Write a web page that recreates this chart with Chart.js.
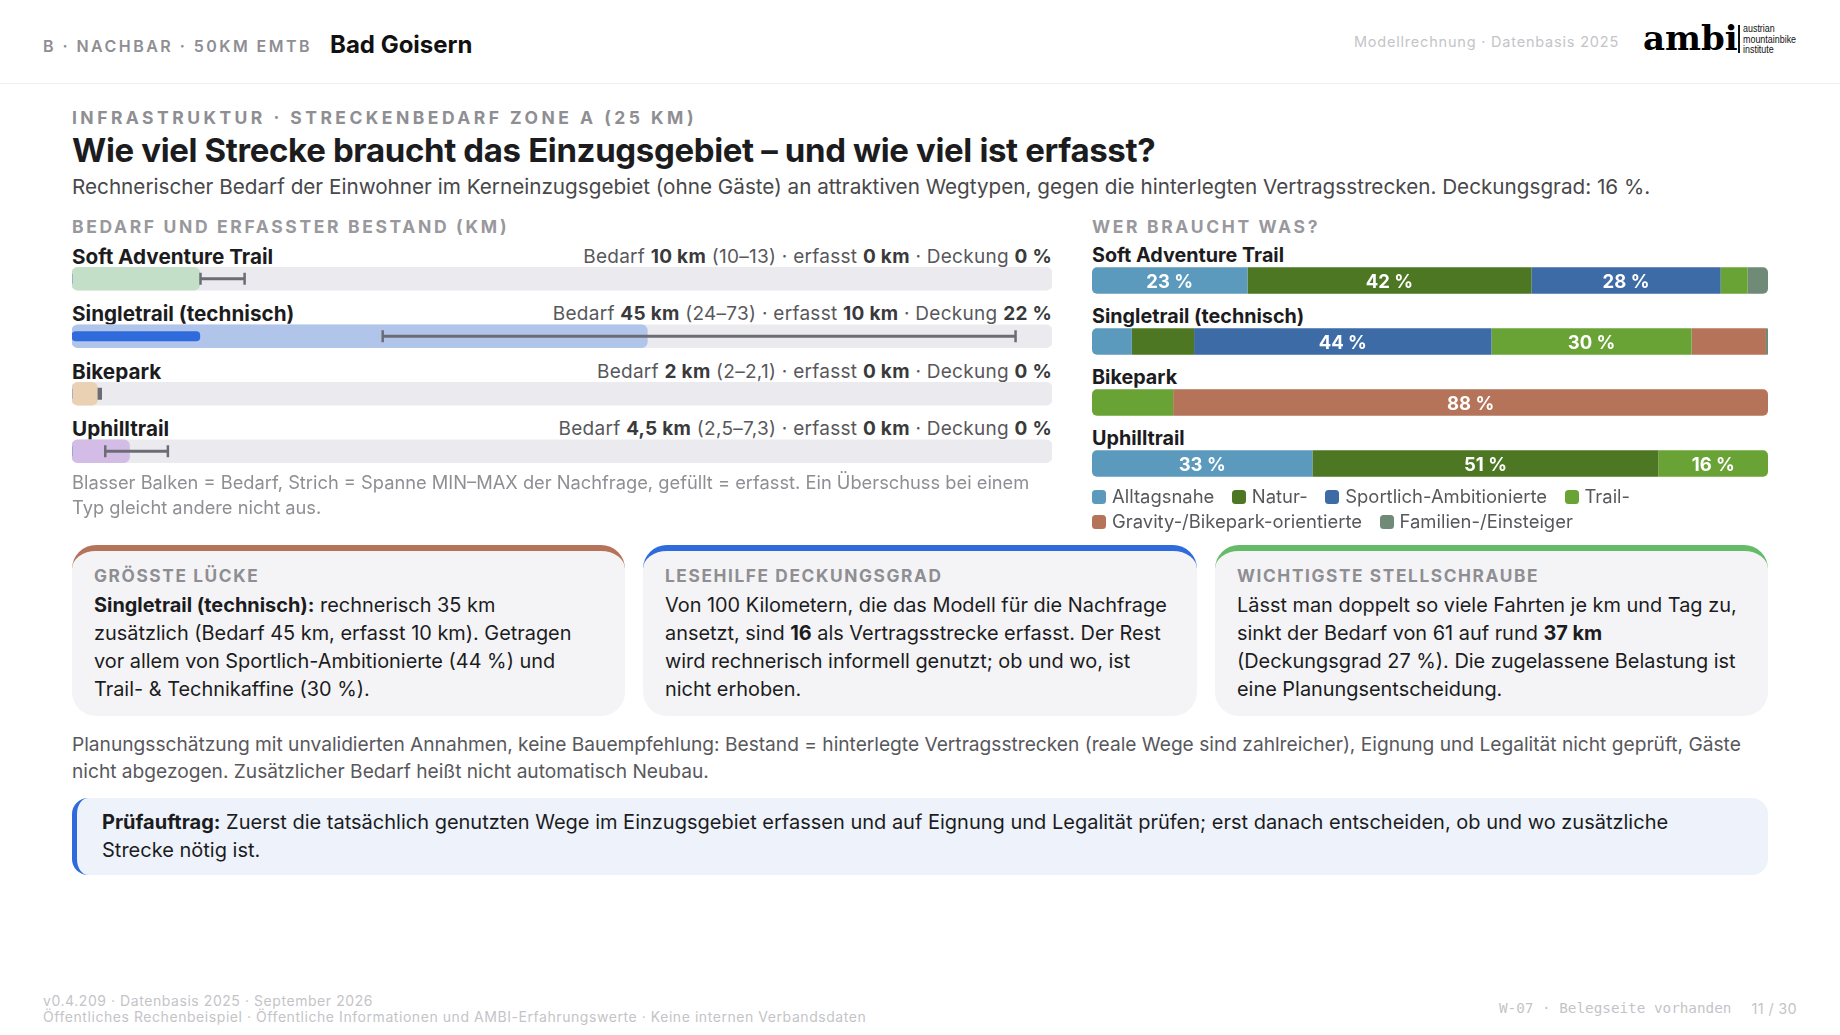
<!DOCTYPE html>
<html lang="de"><head><meta charset="utf-8">
<script src="https://cdn.jsdelivr.net/npm/chart.js@4/dist/chart.umd.min.js"></script>
<style>
html,body{margin:0;padding:0;background:#fff;width:1840px;height:1035px;overflow:hidden;font-family:Inter,sans-serif;color:#1c1c1e}
.a{position:absolute;white-space:nowrap;transform:translateY(-50%)}
.hd{left:0;top:0;width:1840px;height:83px;position:absolute;border-bottom:1.5px solid #efeff1}
.eyebrow{font-weight:700;color:#8e8e93;letter-spacing:3.46px;font-size:17.5px}
.sec{font-weight:700;color:#98989d;letter-spacing:2.64px;font-size:17.5px}
.name{font-weight:700;font-size:20.7px;color:#1c1c1e}
.meta{font-size:19px;letter-spacing:.28px;color:#58585c;right:788px}.meta b{font-weight:700;color:#3a3a3c}
canvas{position:absolute;display:block}
.card{position:absolute;top:545px;height:171px;box-sizing:border-box;background:#f4f4f6;border-top:6px solid;border-radius:24px;padding:14px 22px 0}
.card h4{margin:0 0 4px;font-size:17.3px;line-height:22px;font-weight:700;color:#8e8e93;letter-spacing:1.6px}
.card p{margin:0;font-size:19.9px;line-height:28px;color:#1c1c1e}.card b{font-weight:700}
.legend{position:absolute;left:1092px;top:484px;width:680px;display:flex;flex-wrap:wrap;column-gap:17.5px;font-size:18.45px;line-height:25px;color:#58585c}
.legend span{display:flex;align-items:center}
.legend i{width:14px;height:14px;border-radius:3.5px;margin-right:6px;display:block}
.box{position:absolute;left:72px;top:798px;width:1696px;height:77px;box-sizing:border-box;background:#eef3fb;border-left:5px solid #2f6bdd;border-radius:16px;padding:10px 60px 0 25px;font-size:20px;line-height:28px;color:#1c1c1e}
.box b{font-weight:700}
</style></head><body>
<div class="hd"></div>
<div class="a" style="left:43px;top:46px;font-size:16px;font-weight:600;letter-spacing:2.45px;color:#8e8e93">B · NACHBAR · 50KM EMTB</div>
<div class="a" style="left:330px;top:43.5px;font-size:24px;font-weight:700;color:#111">Bad Goisern</div>
<div class="a" style="right:221px;top:41px;font-size:14.5px;letter-spacing:.055em;color:#c4c4c8">Modellrechnung · Datenbasis 2025</div>
<div class="a" style="left:1643px;top:38px;font-family:'DejaVu Serif';font-weight:700;font-size:34px;color:#000">ambi</div>
<div style="position:absolute;left:1738px;top:25px;width:2px;height:27.5px;background:#111"></div>
<div style="position:absolute;left:1743px;top:23px;font-family:'Liberation Sans';font-size:10.5px;line-height:10.5px;color:#111;transform:scaleX(.85);transform-origin:left top">austrian<br>mountainbike<br>institute</div>

<div class="a eyebrow" style="left:72px;top:116.5px">INFRASTRUKTUR · STRECKENBEDARF ZONE A (25 KM)</div>
<div class="a" style="left:72px;top:150px;font-size:33px;font-weight:700;letter-spacing:-.011em;color:#1c1c1e">Wie viel Strecke braucht das Einzugsgebiet – und wie viel ist erfasst?</div>
<div class="a" style="left:72px;top:186px;font-size:20.7px;color:#48484a">Rechnerischer Bedarf der Einwohner im Kerneinzugsgebiet (ohne Gäste) an attraktiven Wegtypen, gegen die hinterlegten Vertragsstrecken. Deckungsgrad: 16 %.</div>
<div class="a sec" style="left:72px;top:226px">BEDARF UND ERFASSTER BESTAND (KM)</div>
<div class="a sec" style="left:1092px;top:226px">WER BRAUCHT WAS?</div>

<div id="leftLabels"></div>
<canvas id="need" width="980" height="230" style="left:72px;top:249.5px;width:980px;height:230px"></canvas>
<div class="a" style="left:72px;top:494px;font-size:18.3px;line-height:24.5px;color:#8e8e93">Blasser Balken = Bedarf, Strich = Spanne MIN–MAX der Nachfrage, gefüllt = erfasst. Ein Überschuss bei einem<br>Typ gleicht andere nicht aus.</div>

<div id="rightLabels"></div>
<canvas id="mix" width="676" height="244" style="left:1092px;top:249.5px;width:676px;height:244px"></canvas>
<div class="legend" id="legend"></div>

<div class="card" style="left:72px;width:553px;border-color:#b5745a"><h4>GRÖSSTE LÜCKE</h4><p><b>Singletrail (technisch):</b> rechnerisch 35 km<br>zusätzlich (Bedarf 45 km, erfasst 10 km). Getragen<br>vor allem von Sportlich-Ambitionierte (44 %) und<br>Trail- &amp; Technikaffine (30 %).</p></div>
<div class="card" style="left:643px;width:554px;border-color:#2f6bdd"><h4>LESEHILFE DECKUNGSGRAD</h4><p>Von 100 Kilometern, die das Modell für die Nachfrage<br>ansetzt, sind <b>16</b> als Vertragsstrecke erfasst. Der Rest<br>wird rechnerisch informell genutzt; ob und wo, ist<br>nicht erhoben.</p></div>
<div class="card" style="left:1215px;width:553px;border-color:#66bb6a"><h4>WICHTIGSTE STELLSCHRAUBE</h4><p>Lässt man doppelt so viele Fahrten je km und Tag zu,<br>sinkt der Bedarf von 61 auf rund <b>37 km</b><br>(Deckungsgrad 27 %). Die zugelassene Belastung ist<br>eine Planungsentscheidung.</p></div>

<div class="a" style="left:72px;top:757.5px;font-size:19.15px;line-height:27px;color:#58585c">Planungsschätzung mit unvalidierten Annahmen, keine Bauempfehlung: Bestand = hinterlegte Vertragsstrecken (reale Wege sind zahlreicher), Eignung und Legalität nicht geprüft, Gäste<br>nicht abgezogen. Zusätzlicher Bedarf heißt nicht automatisch Neubau.</div>
<div class="box"><b>Prüfauftrag:</b> Zuerst die tatsächlich genutzten Wege im Einzugsgebiet erfassen und auf Eignung und Legalität prüfen; erst danach entscheiden, ob und wo zusätzliche<br>Strecke nötig ist.</div>

<div class="a" style="left:43px;top:1008px;font-size:14px;line-height:15.5px;letter-spacing:.04em;color:#c4c4c8">v0.4.209 · Datenbasis 2025 · September 2026<br>Öffentliches Rechenbeispiel · Öffentliche Informationen und AMBI-Erfahrungswerte · Keine internen Verbandsdaten</div>
<div class="a" style="left:1499px;top:1008px;font-family:'DejaVu Sans Mono';font-size:14.3px;color:#c4c4c8">W-07 · Belegseite vorhanden</div>
<div class="a" style="right:43px;top:1008px;font-size:14.5px;letter-spacing:.3px;color:#c4c4c8">11 / 30</div>

<script>
const categories = ["Soft Adventure Trail", "Singletrail (technisch)", "Bikepark", "Uphilltrail"];
const demandKm = [10, 45, 2, 4.5];
const coveredKm = [0, 10, 0, 0];
const rangeMin = [10.05, 24.3, 2.1, 2.6];
const rangeMax = [13.5, 73.8, 2.25, 7.5];
const axisMaxKm = 76.65;
const trackKm = [axisMaxKm, axisMaxKm, axisMaxKm, axisMaxKm];
const demandText = ["10 km", "45 km", "2 km", "4,5 km"];
const rangeText = ["(10–13)", "(24–73)", "(2–2,1)", "(2,5–7,3)"];
const coveredText = ["0 km", "10 km", "0 km", "0 km"];
const coverageText = ["0 %", "22 %", "0 %", "0 %"];
const demandColors = ["#c3dfc7", "#b1c5ea", "#ebd1b3", "#d3bde6"];

const groupNames = ["Alltagsnahe", "Natur-", "Sportlich-Ambitionierte", "Trail-", "Gravity-/Bikepark-orientierte", "Familien-/Einsteiger"];
const groupColors = ["#5b9abd", "#4d7722", "#3d6ba5", "#6aa335", "#b5745a", "#6f8b78"];
const alltagsnahe = [23, 5.9, 0, 32.6];
const natur = [42, 9.2, 0, 51.2];
const sportlich = [28, 44, 0, 0];
const trail = [4, 29.6, 12, 16.2];
const gravity = [0, 11, 88, 0];
const familien = [3, 0.3, 0, 0];
const groupValues = [alltagsnahe, natur, sportlich, trail, gravity, familien];

const leftY = [255.5, 313, 370.5, 428];
const rightY = [255, 316, 377, 438];
document.getElementById('leftLabels').innerHTML = categories.map((c, i) =>
  `<div class="a name" style="left:72px;top:${leftY[i]}px">${c}</div>` +
  `<div class="a meta" style="top:${leftY[i]}px">Bedarf <b>${demandText[i]}</b> ${rangeText[i]} · erfasst <b>${coveredText[i]}</b> · Deckung <b>${coverageText[i]}</b></div>`).join('');
document.getElementById('rightLabels').innerHTML = categories.map((c, i) =>
  `<div class="a name" style="left:1092px;top:${rightY[i]}px;font-size:19.75px">${c}</div>`).join('');
document.getElementById('legend').innerHTML = groupNames.map((g, i) =>
  `<span><i style="background:${groupColors[i]}"></i>${g}</span>` + (i === 3 ? '<div style="flex-basis:100%;height:0"></div>' : '')).join('');

const whisker = "#6c6c74";
new Chart(document.getElementById('need'), {
  type: 'bar',
  data: { labels: categories, datasets: [
    { data: trackKm, backgroundColor: "#ebebef", barThickness: 23, grouped: false, order: 5, borderRadius: 6, borderSkipped: false },
    { data: demandKm, backgroundColor: demandColors, barThickness: 23, grouped: false, order: 4, borderRadius: 6, borderSkipped: false },
    { data: coveredKm, backgroundColor: "#2f6bdd", barThickness: 9.5, grouped: false, order: 3, borderRadius: 4, borderSkipped: false },
    { data: rangeMin.map((m, i) => [m, rangeMax[i]]), backgroundColor: whisker, barThickness: 2.5, grouped: false, order: 2 },
    { type: 'line', data: rangeMin, showLine: false, pointStyle: 'line', rotation: 90, pointRadius: 6, pointBorderWidth: 2.5, pointBorderColor: whisker, order: 1 },
    { type: 'line', data: rangeMax, showLine: false, pointStyle: 'line', rotation: 90, pointRadius: 6, pointBorderWidth: 2.5, pointBorderColor: whisker, order: 1 }
  ] },
  options: { indexAxis: 'y', responsive: false, animation: false, events: [], layout: { padding: 0, autoPadding: false },
    plugins: { legend: { display: false }, tooltip: { enabled: false } },
    scales: { x: { display: false, min: 0, max: axisMaxKm }, y: { display: false, offset: true } } }
});

const segmentLabels = {
  id: 'segmentLabels',
  afterDatasetsDraw(chart) {
    const c = chart.ctx;
    c.save();
    c.font = '700 18.5px Inter';
    c.fillStyle = '#fff';
    c.textAlign = 'center';
    c.textBaseline = 'middle';
    chart.data.datasets.forEach((ds, d) => {
      chart.getDatasetMeta(d).data.forEach((bar, i) => {
        if (ds.data[i] >= 15) {
          const p = bar.getProps(['x', 'y', 'base'], true);
          c.fillText(Math.round(ds.data[i]) + ' %', (p.x + p.base) / 2, p.y + 1.5);
        }
      });
    });
    c.restore();
  }
};
const cornerRadius = ctx => {
  const d = ctx.datasetIndex, i = ctx.dataIndex, r = 5;
  const nonzero = groupValues.map(v => v[i] > 0);
  const first = nonzero.indexOf(true) === d, last = nonzero.lastIndexOf(true) === d;
  return { topLeft: first ? r : 0, bottomLeft: first ? r : 0, topRight: last ? r : 0, bottomRight: last ? r : 0 };
};
new Chart(document.getElementById('mix'), {
  type: 'bar',
  data: { labels: categories, datasets: groupNames.map((g, i) => ({
    label: g, data: groupValues[i], backgroundColor: groupColors[i], barThickness: 26.5,
    borderRadius: cornerRadius, borderSkipped: false, inflateAmount: 0 })) },
  options: { indexAxis: 'y', responsive: false, animation: false, events: [], layout: { padding: 0 },
    plugins: { legend: { display: false }, tooltip: { enabled: false } },
    scales: { x: { display: false, min: 0, max: 100, stacked: true }, y: { display: false, stacked: true } } },
  plugins: [segmentLabels]
});
</script>
</body></html>
